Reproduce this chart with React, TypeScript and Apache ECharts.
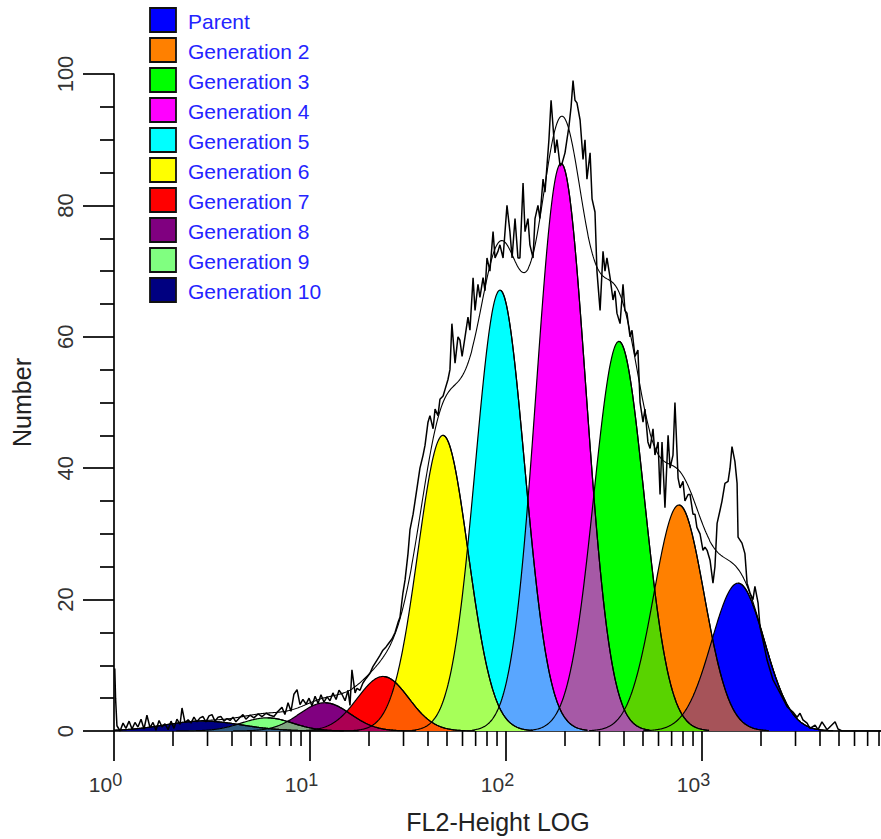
import React, { useEffect, useRef } from 'react';
import * as echarts from 'echarts';

const GENERATIONS = ['Parent', 'Generation 2', 'Generation 3', 'Generation 4', 'Generation 5', 'Generation 6', 'Generation 7', 'Generation 8', 'Generation 9', 'Generation 10'];
const GEN_COLORS = ['#0000ff', '#ff8000', '#00ff00', '#ff00ff', '#00ffff', '#ffff00', '#ff0000', '#800080', '#80ff80', '#000080'];
// fitted peak of each generation: position (FL2-Height channel), height (Number), sd (decades)
const PEAK_POSITION = [1527, 763, 377, 191, 93.2, 47.7, 23.6, 11.9, 6.03, 2.85];
const PEAK_HEIGHT = [22.5, 34.4, 59.3, 86.4, 67.1, 45.0, 8.3, 4.3, 2.0, 1.5];
const PEAK_SD_DECADES = [0.135, 0.128, 0.128, 0.126, 0.125, 0.128, 0.13, 0.13, 0.13, 0.2];
const OVERLAP_WEIGHT = 0.65; // share of the lower-channel generation's colour in an overlap

// raw histogram: log10(channel) and count
const RAW_LOG_CHANNEL = [
  0.004, 0.008, 0.015, 0.031, 0.046, 0.061, 0.077, 0.092, 0.107, 0.122, 0.138, 0.153, 0.168, 0.184, 0.199, 0.214, 0.230, 0.245, 0.260, 0.276,
  0.291, 0.306, 0.321, 0.337, 0.347, 0.362, 0.378, 0.393, 0.408, 0.423, 0.439, 0.454, 0.469, 0.485, 0.500, 0.515, 0.531, 0.546, 0.561, 0.577,
  0.592, 0.607, 0.622, 0.643, 0.658, 0.673, 0.694, 0.714, 0.735, 0.755, 0.776, 0.796, 0.816, 0.837, 0.857, 0.872, 0.888, 0.903, 0.918, 0.934,
  0.949, 0.964, 0.980, 0.995, 1.010, 1.026, 1.041, 1.056, 1.071, 1.087, 1.102, 1.117, 1.133, 1.148, 1.163, 1.179, 1.194, 1.204, 1.214, 1.230,
  1.240, 1.255, 1.270, 1.286, 1.306, 1.321, 1.342, 1.357, 1.372, 1.388, 1.398, 1.418, 1.434, 1.449, 1.459, 1.474, 1.485, 1.500, 1.510, 1.526,
  1.536, 1.551, 1.561, 1.577, 1.587, 1.602, 1.612, 1.628, 1.638, 1.653, 1.663, 1.679, 1.689, 1.704, 1.714, 1.724, 1.740, 1.755, 1.765, 1.776,
  1.791, 1.806, 1.816, 1.832, 1.842, 1.857, 1.867, 1.883, 1.893, 1.903, 1.918, 1.934, 1.944, 1.959, 1.969, 1.985, 2.005, 2.020, 2.031, 2.046,
  2.061, 2.071, 2.087, 2.097, 2.112, 2.122, 2.138, 2.148, 2.163, 2.173, 2.189, 2.199, 2.209, 2.219, 2.230, 2.240, 2.250, 2.260, 2.276, 2.286,
  2.301, 2.311, 2.321, 2.332, 2.342, 2.352, 2.362, 2.378, 2.393, 2.403, 2.413, 2.429, 2.439, 2.454, 2.464, 2.480, 2.495, 2.505, 2.515, 2.531,
  2.546, 2.556, 2.566, 2.582, 2.597, 2.607, 2.617, 2.633, 2.643, 2.658, 2.673, 2.684, 2.699, 2.709, 2.724, 2.735, 2.750, 2.760, 2.776, 2.786,
  2.796, 2.811, 2.827, 2.837, 2.852, 2.862, 2.878, 2.888, 2.903, 2.913, 2.929, 2.939, 2.954, 2.964, 2.974, 2.990, 3.005, 3.015, 3.026, 3.041,
  3.056, 3.066, 3.077, 3.092, 3.102, 3.117, 3.133, 3.143, 3.153, 3.168, 3.179, 3.184, 3.204, 3.219, 3.230, 3.245, 3.260, 3.270, 3.286, 3.296,
  3.311, 3.332, 3.362, 3.398, 3.434, 3.464, 3.485, 3.500, 3.515, 3.536, 3.551, 3.577, 3.592, 3.612, 3.638, 3.679, 3.694, 3.714, 4.0,
];
const RAW_COUNT = [
  9.5, 5.0, 0.8, 0, 1.2, 0.4, 1.5, 0.3, 1.3, 0.6, 1.8, 0.3, 2.4, 0.5, 1.3, 0.1, 1.6, 0.6, 1.1, 0.2,
  1.5, 0.4, 1.8, 1.0, 3.5, 1.3, 1.7, 1.2, 2.1, 1.4, 2.0, 2.2, 1.4, 2.3, 2.5, 1.5, 2.1, 2.2, 1.5, 1.9,
  1.6, 2.1, 1.4, 2.1, 2.5, 1.8, 2.4, 2.0, 2.6, 2.2, 2.7, 2.4, 2.2, 3.0, 3.6, 2.5, 4.3, 3.0, 5.6, 6.3,
  4.0, 4.8, 4.1, 5.0, 3.8, 5.3, 4.2, 5.5, 4.4, 5.2, 4.6, 5.8, 4.8, 6.2, 5.6, 4.6, 6.2, 3.9, 9.3, 5.8,
  6.5, 6.2, 7.3, 8.0, 8.8, 9.8, 10.8, 11.5, 12.3, 12.8, 13.2, 14.0, 15.0, 16.5, 17.3, 21.0, 23.0, 27.0, 30.6, 33.0,
  35.0, 38.0, 40.0, 42.0, 43.5, 47.0, 48.0, 46.0, 49.0, 48.0, 50.5, 51.0, 52.0, 53.5, 55.0, 62.0, 56.0, 60.0, 59.5, 57.0,
  60.0, 63.0, 61.0, 69.0, 64.0, 68.0, 66.0, 69.0, 67.0, 72.0, 70.0, 76.0, 72.0, 73.0, 74.0, 72.0, 80.0, 76.0, 72.0, 78.0,
  72.0, 72.0, 83.4, 76.0, 78.0, 74.0, 72.0, 78.0, 80.0, 78.0, 84.0, 82.0, 86.0, 90.0, 96.0, 92.0, 88.0, 90.0, 86.0, 86.4,
  88.0, 90.0, 92.0, 95.0, 99.0, 96.0, 95.6, 93.0, 87.0, 90.0, 84.0, 88.0, 81.0, 79.0, 70.0, 64.0, 73.0, 70.0, 72.0, 69.0,
  65.6, 67.0, 63.6, 62.0, 68.0, 64.0, 63.6, 60.0, 61.0, 57.0, 58.0, 50.0, 47.0, 49.0, 44.0, 43.0, 46.0, 42.0, 44.0, 36.0,
  44.0, 34.0, 45.0, 40.0, 42.0, 50.0, 38.5, 37.0, 38.0, 35.0, 36.0, 36.0, 33.0, 33.0, 31.0, 30.0, 27.5, 28.0, 27.5, 26.0,
  22.5, 25.0, 31.6, 33.6, 35.0, 37.7, 38.0, 40.0, 43.3, 41.0, 37.7, 29.5, 28.6, 27.0, 22.5, 21.0, 20.0, 22.0, 19.5, 15.8,
  13.8, 10.8, 7.8, 5.8, 3.7, 2.9, 2.1, 2.7, 1.7, 1.2, 0.4, 0.9, 0.2, 1.4, 0.2, 1.4, 0.3, 0, 0,
];

const X_MIN = 1;
const X_MAX = 10000;
const X_MINOR_TICKS = [2, 3, 4, 5, 6, 7, 8, 9, 20, 30, 40, 50, 60, 70, 80, 90, 200, 300, 400, 500, 600, 700, 800, 900, 2000, 3000, 4000, 5000, 6000, 7000, 8000, 9000];
const Y_MIN = 0;
const Y_MAX = 100;
const Y_STEP = 20;

const FONT = "'Liberation Sans', Arial, sans-serif";
const CURVE_STEP = 0.004; // evaluation step of the fitted model, decades
const CURVE_SPAN = 3.6; // sd on each side

function hexToRgb(h: string) {
  const n = parseInt(h.slice(1), 16);
  return [(n >> 16) & 255, (n >> 8) & 255, n & 255];
}
function mix(a: string, b: string, w: number) {
  const A = hexToRgb(a), B = hexToRgb(b);
  const c = A.map((v, k) => Math.round(v * w + B[k] * (1 - w)));
  return `rgb(${c[0]},${c[1]},${c[2]})`;
}

export default function App() {
  const ref = useRef<HTMLDivElement>(null);
  useEffect(() => {
    if (!ref.current) return;
    const chart = echarts.init(ref.current, undefined, { renderer: 'svg' });

    const nSteps = Math.round(Math.log10(X_MAX) / CURVE_STEP);
    const grid: number[] = [];
    for (let k = 0; k <= nSteps; k++) grid.push(k * CURVE_STEP);
    const centre = PEAK_POSITION.map((p) => Math.log10(p));
    const inRange = (i: number, l: number) => Math.abs(l - centre[i]) <= CURVE_SPAN * PEAK_SD_DECADES[i];
    const model = (i: number, l: number) =>
      PEAK_HEIGHT[i] * Math.exp(-0.5 * Math.pow((l - centre[i]) / PEAK_SD_DECADES[i], 2));

    const series: any[] = [];
    // generation fills with outlines
    for (let i = GENERATIONS.length - 1; i >= 0; i--) {
      series.push({
        name: GENERATIONS[i],
        type: 'line',
        showSymbol: false,
        silent: true,
        data: grid.filter((l) => inRange(i, l)).map((l) => [Math.pow(10, l), model(i, l)]),
        lineStyle: { color: '#000', width: 1.2 },
        itemStyle: { color: GEN_COLORS[i] },
        areaStyle: { color: GEN_COLORS[i], opacity: 1 },
      });
    }
    // overlaps of neighbouring generations
    for (let i = 0; i < GENERATIONS.length - 1; i++) {
      const j = i + 1;
      series.push({
        type: 'line',
        showSymbol: false,
        silent: true,
        data: grid
          .filter((l) => inRange(i, l) && inRange(j, l))
          .map((l) => [Math.pow(10, l), Math.min(model(i, l), model(j, l))]),
        lineStyle: { width: 0, opacity: 0 },
        areaStyle: { color: mix(GEN_COLORS[j], GEN_COLORS[i], OVERLAP_WEIGHT), opacity: 1 },
      });
    }
    // upper-channel edges drawn over the overlaps
    for (let i = 0; i < GENERATIONS.length; i++) {
      series.push({
        type: 'line',
        showSymbol: false,
        silent: true,
        data: grid
          .filter((l) => inRange(i, l) && l >= centre[i])
          .map((l) => [Math.pow(10, l), model(i, l)]),
        lineStyle: { color: '#000', width: 1.2 },
      });
    }
    // fitted sum
    series.push({
      type: 'line',
      showSymbol: false,
      silent: true,
      data: grid.map((l) => {
        let s = 0;
        for (let i = 0; i < GENERATIONS.length; i++) if (inRange(i, l)) s += model(i, l);
        return [Math.pow(10, l), s];
      }),
      lineStyle: { color: '#000', width: 1.1 },
    });
    // raw histogram
    series.push({
      type: 'line',
      showSymbol: false,
      silent: true,
      data: RAW_LOG_CHANNEL.map((l, k) => [Math.pow(10, l), RAW_COUNT[k]]),
      lineStyle: { color: '#000', width: 1.5 },
    });
    // minor ticks of the log axis
    series.push({
      type: 'custom',
      silent: true,
      clip: false,
      data: X_MINOR_TICKS.map((v) => [v, Y_MIN]),
      renderItem: (_p: any, api: any) => {
        const pt = api.coord([api.value(0), api.value(1)]);
        return {
          type: 'line',
          shape: { x1: pt[0], y1: pt[1], x2: pt[0], y2: pt[1] + 15 },
          style: { stroke: '#000', lineWidth: 1.6 },
        };
      },
    });

    const legendItems: any[] = [];
    GENERATIONS.forEach((g, i) => {
      legendItems.push({
        type: 'rect',
        shape: { x: 150, y: 8 + 30 * i, width: 26, height: 24 },
        style: { fill: GEN_COLORS[i], stroke: '#111', lineWidth: 1.8 },
      });
      legendItems.push({
        type: 'text',
        x: 188,
        y: 21.5 + 30 * i,
        style: {
          text: g,
          fill: '#2424ff',
          fontSize: 21,
          fontFamily: FONT,
          verticalAlign: 'middle',
          textVerticalAlign: 'middle',
        },
      });
    });

    const axisColor = '#000';
    const option: any = {
      animation: false,
      backgroundColor: '#fff',
      grid: { left: 114, right: 22, top: 74, bottom: 108 },
      xAxis: {
        type: 'log',
        logBase: 10,
        min: X_MIN,
        max: X_MAX,
        axisLine: { show: true, onZero: false, lineStyle: { color: axisColor, width: 1.7 } },
        axisTick: { show: true, length: 30, lineStyle: { color: axisColor, width: 1.7 } },
        minorTick: { show: false },
        splitLine: { show: false },
        axisLabel: {
          margin: 40,
          padding: [0, 17, 0, 0],
          color: '#333',
          fontFamily: FONT,
          formatter: (v: number) => {
            const e = Math.round(Math.log10(v));
            if (e >= 4) return '';
            return `{b|10}{s|${e}}`;
          },
          rich: {
            b: { fontSize: 21, lineHeight: 24, fontFamily: FONT, color: '#333', verticalAlign: 'bottom' },
            s: { fontSize: 18, lineHeight: 20, fontFamily: FONT, color: '#333', verticalAlign: 'bottom', padding: [0, 0, 6, 0] },
          },
        },
        name: 'FL2-Height LOG',
        nameLocation: 'middle',
        nameGap: 78,
        nameTextStyle: { fontSize: 25, color: '#222', fontFamily: FONT, padding: [0, 16, 0, 0] },
      },
      yAxis: {
        type: 'value',
        min: Y_MIN,
        max: Y_MAX,
        interval: Y_STEP,
        axisLine: { show: true, lineStyle: { color: axisColor, width: 1.7 } },
        axisTick: { show: true, length: 31, lineStyle: { color: axisColor, width: 1.7 } },
        minorTick: { show: true, splitNumber: 4, length: 14, lineStyle: { color: axisColor, width: 1.7 } },
        splitLine: { show: false },
        minorSplitLine: { show: false },
        axisLabel: { rotate: 90, margin: 38, fontSize: 22, color: '#333', fontFamily: FONT },
        name: 'Number',
        nameLocation: 'middle',
        nameRotate: 90,
        nameGap: 80,
        nameTextStyle: { fontSize: 25, color: '#222', fontFamily: FONT },
      },
      graphic: legendItems,
      series,
    };
    chart.setOption(option);
    return () => chart.dispose();
  }, []);

  return (
    <div style={{ position: 'absolute', left: 0, top: 0, width: 881, height: 839, overflow: 'hidden', background: '#fff' }}>
      <div ref={ref} style={{ width: 920, height: 839 }} />
    </div>
  );
}
